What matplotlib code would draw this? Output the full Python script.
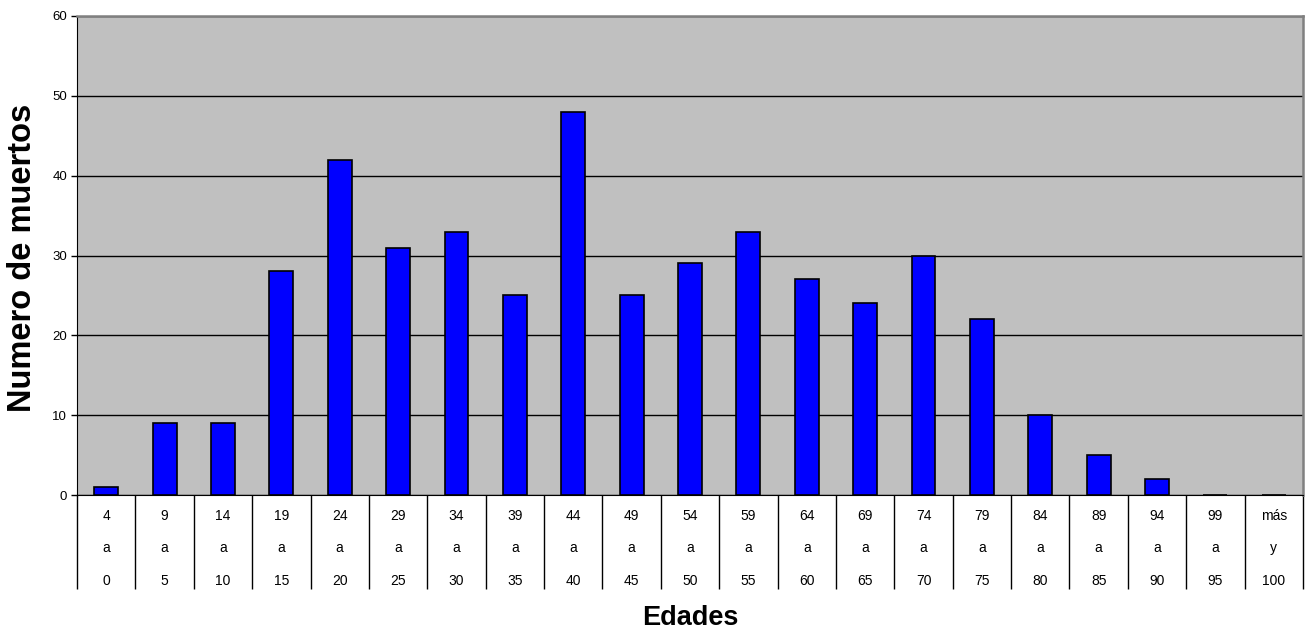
import matplotlib.pyplot as plt
import numpy as np

# Datos de muertos por grupo de edad
desde = ["4", "9", "14", "19", "24", "29", "34", "39", "44", "49", "54",
         "59", "64", "69", "74", "79", "84", "89", "94", "99", "más"]
union = ["a"] * 20 + ["y"]
hasta = ["0", "5", "10", "15", "20", "25", "30", "35", "40", "45", "50",
         "55", "60", "65", "70", "75", "80", "85", "90", "95", "100"]
muertos = [1, 9, 9, 28, 42, 31, 33, 25, 48, 25, 29, 33, 27, 24, 30, 22, 10, 5, 2, 0, 0]

plt.rcParams['font.family'] = ['Liberation Sans', 'DejaVu Sans']

fig = plt.figure(figsize=(13.07, 6.33), dpi=100)
ax = fig.add_axes([77/1307, 1 - 495/633, (1303 - 77)/1307, (495 - 16)/633])

x = np.arange(len(muertos))
ax.bar(x, muertos, width=0.41, color='#0000ff', edgecolor='black', linewidth=1.2, zorder=3)

ax.set_facecolor('#c0c0c0')
ax.set_xlim(-0.5, len(muertos) - 0.5)
ax.set_ylim(0, 60)
ax.set_yticks(range(0, 61, 10))
ax.yaxis.grid(True, color='black', linewidth=1)
ax.tick_params(axis='y', labelsize=9.5, length=4, width=1, color='black', pad=3)

# Etiquetas de categoria en tres renglones, separadas por rayas largas
ax.set_xticks(np.arange(len(muertos) + 1) - 0.5)
ax.set_xticklabels([])
ax.tick_params(axis='x', which='major', length=68, width=1, color='black', direction='out')
ax.set_xticks(x, minor=True)
ax.set_xticklabels([f"{a}\n{b}\n{c}" for a, b, c in zip(desde, union, hasta)],
                   minor=True, fontsize=10, linespacing=2.68)
ax.tick_params(axis='x', which='minor', length=0, pad=10)

for lado in ['top', 'right']:
    ax.spines[lado].set_color('#808080')
    ax.spines[lado].set_linewidth(1.8)
ax.spines['left'].set_color('black')
ax.spines['bottom'].set_color('black')

fig.text(23/1307, 1 - 258/633, 'Numero de muertos', fontsize=23.5, fontweight='bold',
         rotation=90, ha='center', va='center')
fig.text(690/1307, 1 - 618/633, 'Edades', fontsize=19.5, fontweight='bold',
         ha='center', va='center')

plt.savefig('out.png')
